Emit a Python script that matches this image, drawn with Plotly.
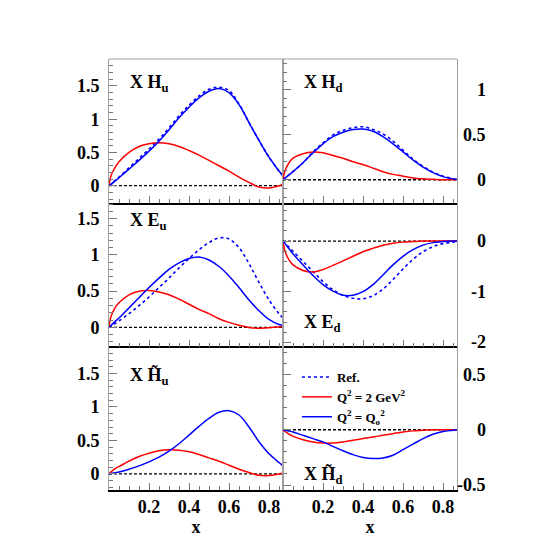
import plotly.graph_objects as go
from plotly.subplots import make_subplots

# x grid
x = [0, 0.01, 0.03, 0.05, 0.1, 0.15, 0.2, 0.25, 0.3, 0.35, 0.4, 0.45,
     0.5, 0.55, 0.6, 0.65, 0.7, 0.75, 0.8, 0.85, 0.87]

# x H_u
hu_ref = [0, 0.025, 0.08, 0.13, 0.27, 0.41, 0.55, 0.70, 0.87, 1.05, 1.21, 1.35,
          1.45, 1.48, 1.43, 1.23, 0.95, 0.68, 0.43, 0.22, 0.15]
hu_q2 = [0, 0.15, 0.27, 0.36, 0.50, 0.59, 0.63, 0.645, 0.63, 0.59, 0.53, 0.46,
         0.38, 0.30, 0.22, 0.13, 0.05, -0.02, -0.035, 0.0, 0.02]
hu_q0 = [0, 0.02, 0.07, 0.12, 0.25, 0.38, 0.52, 0.67, 0.84, 1.02, 1.18, 1.32,
         1.42, 1.46, 1.40, 1.22, 0.95, 0.68, 0.43, 0.22, 0.15]

# x H_d
hd_ref = [0, 0.018, 0.055, 0.09, 0.19, 0.31, 0.41, 0.50, 0.55, 0.58, 0.59, 0.56,
          0.51, 0.43, 0.33, 0.23, 0.15, 0.085, 0.04, 0.012, 0.005]
hd_q2 = [0, 0.10, 0.19, 0.24, 0.29, 0.31, 0.30, 0.27, 0.24, 0.20, 0.17, 0.13,
         0.09, 0.06, 0.04, 0.02, 0.01, 0.005, 0.0, 0.0, 0.0]
hd_q0 = [0, 0.018, 0.055, 0.09, 0.19, 0.30, 0.40, 0.48, 0.53, 0.56, 0.565, 0.54,
         0.48, 0.40, 0.31, 0.22, 0.14, 0.08, 0.035, 0.01, 0.005]

# x E_u
eu_ref = [0, 0.018, 0.055, 0.09, 0.19, 0.30, 0.42, 0.55, 0.68, 0.82, 0.95, 1.07,
          1.17, 1.235, 1.22, 1.10, 0.88, 0.62, 0.38, 0.19, 0.13]
eu_q2 = [0, 0.15, 0.27, 0.34, 0.45, 0.50, 0.51, 0.49, 0.45, 0.39, 0.32, 0.25,
         0.19, 0.12, 0.07, 0.03, 0.0, -0.01, -0.005, 0.01, 0.015]
eu_q0 = [0, 0.027, 0.08, 0.13, 0.27, 0.41, 0.55, 0.68, 0.80, 0.89, 0.95, 0.97,
         0.93, 0.84, 0.71, 0.55, 0.38, 0.23, 0.11, 0.04, 0.03]

# x E_d
ed_ref = [0, -0.04, -0.12, -0.20, -0.40, -0.60, -0.80, -0.96, -1.07, -1.13, -1.14, -1.08,
          -0.95, -0.76, -0.55, -0.36, -0.21, -0.11, -0.05, -0.02, -0.01]
ed_q2 = [0, -0.2, -0.37, -0.47, -0.58, -0.61, -0.56, -0.48, -0.39, -0.30, -0.21, -0.14,
         -0.08, -0.04, -0.02, -0.01, 0, 0, 0, 0, 0]
ed_q0 = [0, -0.05, -0.15, -0.25, -0.47, -0.68, -0.86, -0.99, -1.07, -1.07, -1.0, -0.86,
         -0.67, -0.47, -0.30, -0.17, -0.08, -0.03, -0.01, 0, 0]

# x H~_u
htu_q2 = [0, 0.03, 0.08, 0.11, 0.19, 0.26, 0.31, 0.345, 0.36, 0.355, 0.33, 0.29,
          0.24, 0.19, 0.13, 0.07, 0.02, -0.02, -0.025, 0.0, 0.01]
htu_q0 = [0, 0.005, 0.018, 0.03, 0.07, 0.12, 0.18, 0.25, 0.34, 0.45, 0.58, 0.71,
          0.83, 0.92, 0.945, 0.88, 0.70, 0.48, 0.30, 0.17, 0.12]

# x H~_d
htd_q2 = [0, -0.015, -0.04, -0.06, -0.09, -0.11, -0.12, -0.12, -0.11, -0.095, -0.08, -0.065,
          -0.05, -0.035, -0.02, -0.01, -0.005, 0, 0, 0, 0]
htd_q0 = [0, -0.004, -0.012, -0.02, -0.05, -0.08, -0.11, -0.15, -0.19, -0.225, -0.25, -0.26,
          -0.255, -0.23, -0.18, -0.13, -0.08, -0.04, -0.015, -0.005, 0]

legend_names = ["Ref.", "Q<sup>2</sup> = 2 GeV<sup>2</sup>", "Q<sup>2</sup> = Q<sub>o</sub><sup>2</sup>"]

# row, col, label, ref, q2, q0, y range, major ticks, minor step, label pos (x, y paper)
panels = [
    (1, 1, "X H<sub>u</sub>", hu_ref, hu_q2, hu_q0, [-0.255, 1.905], [0, 0.5, 1, 1.5], 0.1, (0.055, 0.942)),
    (1, 2, "X H<sub>d</sub>", hd_ref, hd_q2, hd_q0, [-0.255, 1.345], [0, 0.5, 1], 0.1, (0.555, 0.942)),
    (2, 1, "X E<sub>u</sub>", eu_ref, eu_q2, eu_q0, [-0.26, 1.72], [0, 0.5, 1, 1.5], 0.1, (0.055, 0.624)),
    (2, 2, "X E<sub>d</sub>", ed_ref, ed_q2, ed_q0, [-2.08, 0.76], [-2, -1, 0], 0.2, (0.555, 0.387)),
    (3, 1, "X H\u0303<sub>u</sub>", None, htu_q2, htu_q0, [-0.24, 1.905], [0, 0.5, 1, 1.5], 0.1, (0.055, 0.264)),
    (3, 2, "X H\u0303<sub>d</sub>", None, htd_q2, htd_q0, [-0.545, 0.755], [-0.5, 0, 0.5], 0.1, (0.555, 0.033)),
]

SERIF = "Liberation Serif"
GRAY = "#a0a0a0"
TICKC = "#777777"

fig = make_subplots(rows=3, cols=2, horizontal_spacing=0, vertical_spacing=0)

for i, (r, c, label, ref, q2, q0, yr, yt, ym, pos) in enumerate(panels):
    first = i == 0
    # zero line
    fig.add_trace(go.Scatter(x=[x[0], x[-1]], y=[0, 0], mode="lines",
                             line=dict(color="black", width=1.3, dash="3px,2px"),
                             showlegend=False, hoverinfo="skip"), row=r, col=c)
    if ref is not None:
        fig.add_trace(go.Scatter(x=x, y=ref, mode="lines", name=legend_names[0],
                                 line=dict(color="blue", width=1.6, dash="3px,3px", shape="spline"),
                                 showlegend=first), row=r, col=c)
    fig.add_trace(go.Scatter(x=x, y=q2, mode="lines", name=legend_names[1],
                             line=dict(color="red", width=1.5, shape="spline"),
                             showlegend=first), row=r, col=c)
    fig.add_trace(go.Scatter(x=x, y=q0, mode="lines", name=legend_names[2],
                             line=dict(color="blue", width=1.5, shape="spline"),
                             showlegend=first), row=r, col=c)

    fig.update_xaxes(range=[0, 0.87], showline=True, linecolor="black", linewidth=1.5,
                     ticks="inside", ticklen=7, tickcolor=TICKC,
                     tickmode="array", tickvals=[0.2, 0.4, 0.6, 0.8],
                     minor=dict(tickmode="linear", tick0=0, dtick=0.05, ticks="inside",
                                ticklen=4, tickcolor=TICKC),
                     showgrid=False, zeroline=False, showticklabels=(r == 3),
                     tickfont=dict(family=SERIF, size=18, color="black", weight="bold"),
                     row=r, col=c)
    fig.update_yaxes(range=yr, showline=True, linecolor=GRAY, linewidth=1, mirror=True,
                     ticks="inside", ticklen=8, tickcolor=TICKC,
                     tickmode="array", tickvals=yt,
                     minor=dict(tickmode="linear", tick0=0, dtick=ym, ticks="inside",
                                ticklen=4, tickcolor=TICKC),
                     showgrid=False, zeroline=False, showticklabels=(c == 1),
                     ticklabelstandoff=5,
                     tickfont=dict(family=SERIF, size=18, color="black", weight="bold"),
                     row=r, col=c)

    fig.add_annotation(text=label, xref="paper", yref="paper", x=pos[0], y=pos[1],
                       xanchor="left", yanchor="middle", showarrow=False,
                       font=dict(family=SERIF, size=18, color="black", weight="bold"))

    # right column tick labels sit far out on the right, right-aligned
    if c == 2:
        yname = "y" + str(2 * r)
        for v in yt:
            fig.add_annotation(text=("%g" % v), xref="paper", yref=yname, x=1.089, y=v,
                               xanchor="right", yanchor="middle", showarrow=False,
                               font=dict(family=SERIF, size=18, color="black", weight="bold"))

for c in (1, 2):
    fig.update_xaxes(title=dict(text="x", standoff=0,
                                font=dict(family=SERIF, size=18, color="black", weight="bold")),
                     row=3, col=c)

# grey top frame line
fig.add_shape(type="line", xref="paper", yref="paper", x0=0, x1=1, y0=1, y1=1,
              line=dict(color=GRAY, width=1))

# page body adds an 8px margin, so the figure is a bit smaller and shifted
fig.update_layout(
    width=537, height=537,
    margin=dict(l=101, r=88, t=51, b=55),
    paper_bgcolor="white", plot_bgcolor="white",
    legend=dict(x=0.54, y=0.297, xanchor="left", yanchor="top",
                bgcolor="rgba(0,0,0,0)", itemwidth=30, tracegroupgap=0,
                font=dict(family=SERIF, size=13, color="black", weight="bold")),
)

fig.write_html("out.html")
